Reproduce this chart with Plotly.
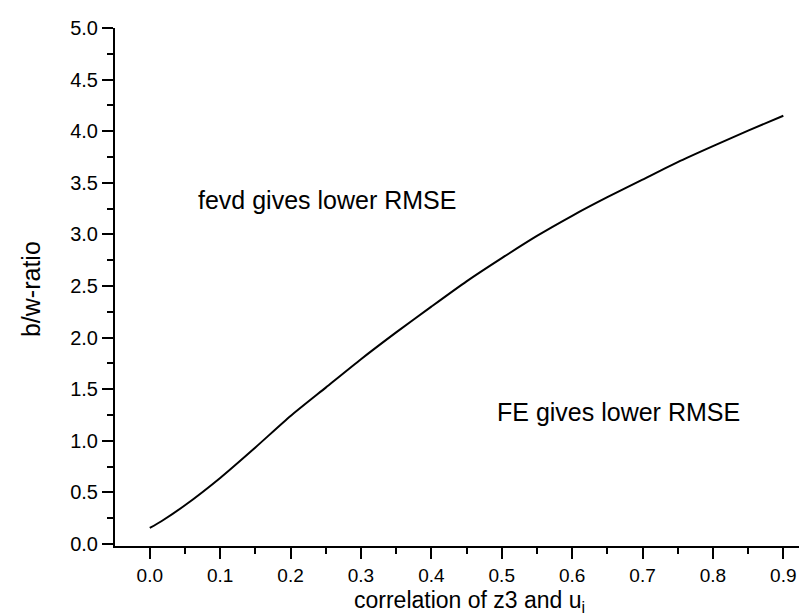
import plotly.graph_objects as go

# correlation of z3 and u_i
corr = [0.0, 0.0165, 0.05, 0.10, 0.15, 0.20, 0.25, 0.30, 0.35, 0.40, 0.45,
        0.50, 0.55, 0.60, 0.65, 0.70, 0.75, 0.80, 0.85, 0.90]
# b/w-ratio threshold
ratio = [0.155, 0.22, 0.375, 0.64, 0.935, 1.24, 1.515, 1.79, 2.05, 2.30, 2.545,
         2.77, 2.985, 3.18, 3.36, 3.53, 3.70, 3.855, 4.005, 4.15]

x_ticks = [0.0, 0.1, 0.2, 0.3, 0.4, 0.5, 0.6, 0.7, 0.8, 0.9]
y_ticks = [0.0, 0.5, 1.0, 1.5, 2.0, 2.5, 3.0, 3.5, 4.0, 4.5, 5.0]

FONT = "Arial, Liberation Sans, sans-serif"

fig = go.Figure()
fig.add_trace(go.Scatter(x=corr, y=ratio, mode="lines",
                         line=dict(color="black", width=2, shape="spline", smoothing=0.6),
                         showlegend=False, hoverinfo="skip"))

fig.update_layout(
    width=807, height=614,
    margin=dict(l=107, r=0, t=20, b=76),
    plot_bgcolor="white", paper_bgcolor="white",
    font=dict(family=FONT, color="black"),
    xaxis=dict(range=[-0.0494, 0.945], showline=True, linecolor="black", linewidth=2,
               tickmode="array", tickvals=x_ticks, tickformat=".1f",
               ticks="outside", ticklen=11, tickwidth=2, tickcolor="black",
               tickfont=dict(size=19, family=FONT),
               minor=dict(dtick=0.05, tick0=0, ticks="outside", ticklen=6, tickwidth=2, tickcolor="black"),
               showgrid=False, zeroline=False),
    yaxis=dict(range=[-0.02, 5.0], showline=True, linecolor="black", linewidth=2,
               tickmode="array", tickvals=y_ticks, tickformat=".1f",
               ticks="outside", ticklen=11, tickwidth=2, tickcolor="black",
               tickfont=dict(size=20, family=FONT),
               minor=dict(dtick=0.25, tick0=0, ticks="outside", ticklen=6, tickwidth=2, tickcolor="black"),
               showgrid=False, zeroline=False),
    annotations=[
        dict(text="fevd gives lower RMSE", x=0.066, y=3.33, xref="x", yref="y",
             xanchor="left", yanchor="middle", showarrow=False, font=dict(size=25, family=FONT)),
        dict(text="FE gives lower RMSE", x=0.491, y=1.28, xref="x", yref="y",
             xanchor="left", yanchor="middle", showarrow=False, font=dict(size=25, family=FONT)),
        dict(text="correlation of z3 and u<sub>i</sub>", x=0.507, y=-0.139, xref="paper", yref="paper",
             xanchor="center", yanchor="bottom", showarrow=False, font=dict(size=23, family=FONT)),
        dict(text="b/w-ratio", x=-0.12, y=0.496, xref="paper", yref="paper", textangle=-90,
             xanchor="center", yanchor="middle", showarrow=False, font=dict(size=25, family=FONT)),
    ],
)

fig.write_html("out.html")
